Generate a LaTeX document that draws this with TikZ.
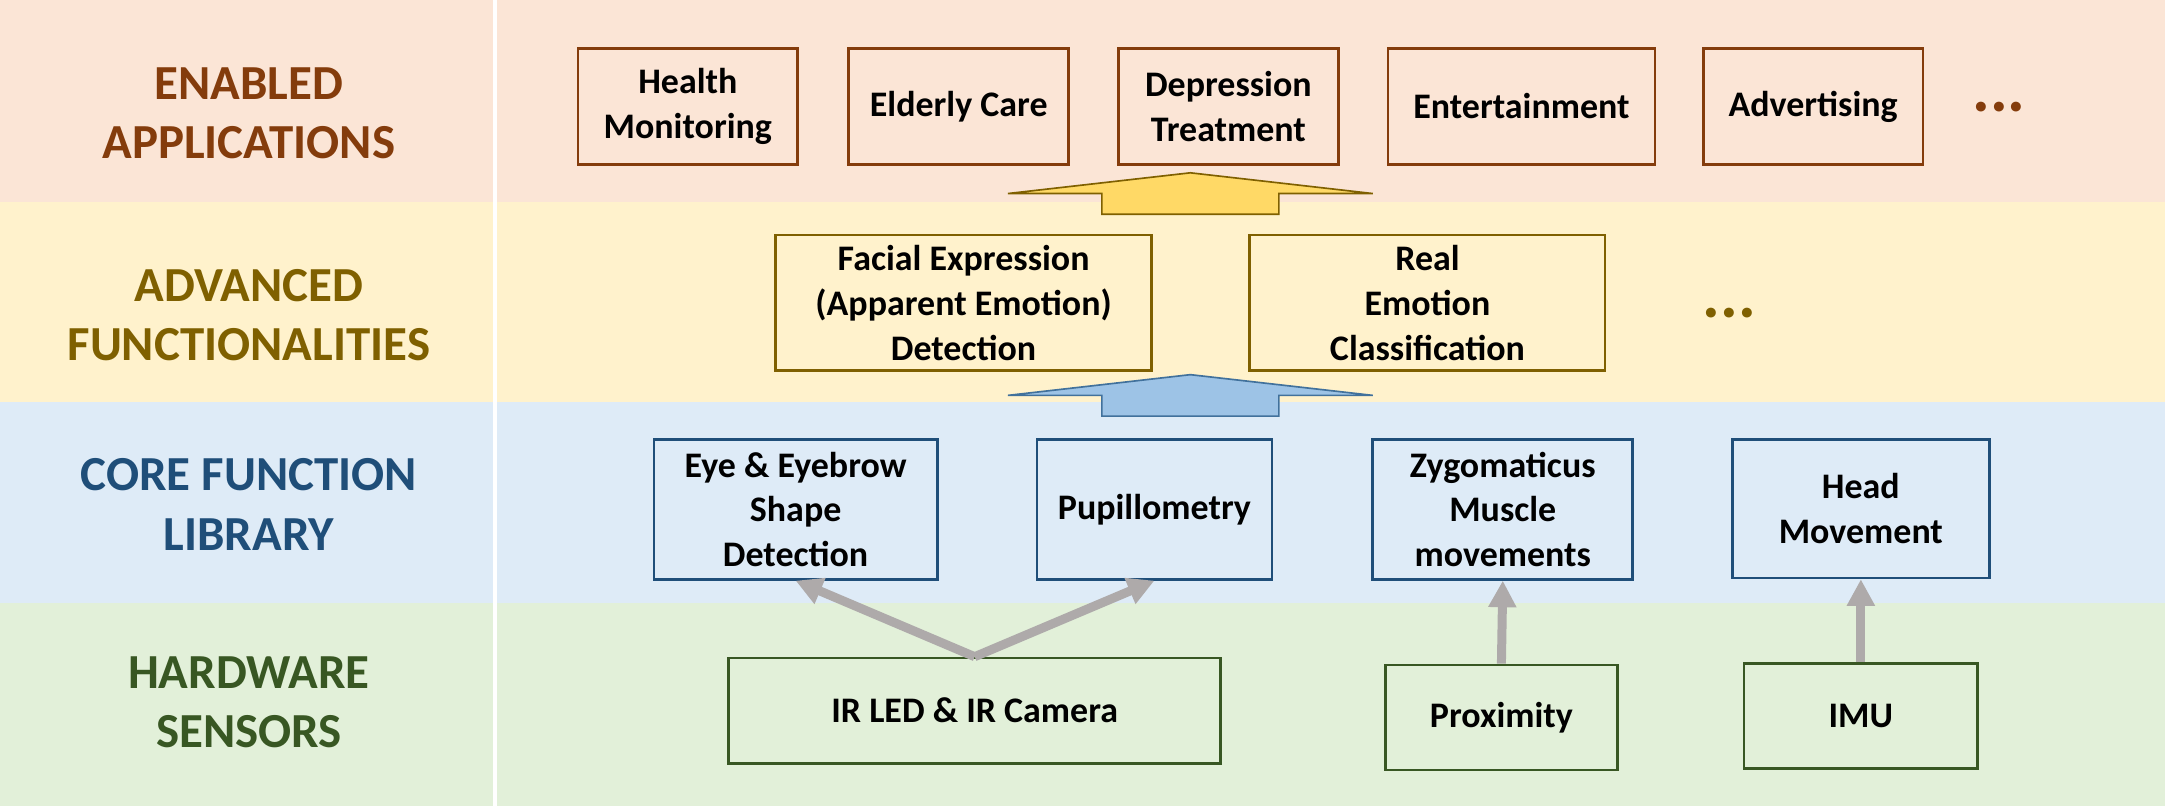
\documentclass[tikz,border=0pt]{standalone}
\usepackage{fontspec}
\setmainfont{Carlito}
\usetikzlibrary{arrows.meta}
\definecolor{bandA}{HTML}{FBE5D6}
\definecolor{bandB}{HTML}{FFF2CC}
\definecolor{bandC}{HTML}{DEEBF7}
\definecolor{bandD}{HTML}{E2F0D9}
\definecolor{darkA}{HTML}{843C0C}
\definecolor{darkB}{HTML}{7F6000}
\definecolor{darkC}{HTML}{1F4E79}
\definecolor{darkD}{HTML}{385723}
\definecolor{arrY}{HTML}{FFD966}
\definecolor{arrB}{HTML}{9DC3E6}
\definecolor{arrBd}{HTML}{41719C}
\definecolor{grayarr}{HTML}{AEAAAA}
\tikzset{
  lab/.style={align=center, inner sep=0pt, font=\fontsize{17.7}{21.6}\selectfont\bfseries},
  box/.style={draw, line width=1pt, align=center, inner sep=0pt, text=black,
              font=\fontsize{13}{16.2}\selectfont\bfseries},
  appbox/.style={box, draw=darkA, fill=bandA},
  advbox/.style={box, draw=darkB, fill=bandB},
  corebox/.style={box, draw=darkC, fill=bandC},
  hwbox/.style={box, draw=darkD, fill=bandD},
  dots/.style={inner sep=0pt, anchor=base, font=\fontsize{24}{24}\selectfont\bfseries},
  grayarrow/.style={draw=grayarr, line width=3.25pt, -{Triangle[length=9.6pt,width=9.6pt]}},
  blockarrow/.style={line width=0.6pt, line join=miter}
}
\begin{document}
\begin{tikzpicture}[x=0.5pt,y=-0.5pt]
\useasboundingbox (0,0) rectangle (1566,583);
% bands
\fill[bandA] (0,0) rectangle (1566,146);
\fill[bandB] (0,146) rectangle (1566,291);
\fill[bandC] (0,291) rectangle (1566,436);
\fill[bandD] (0,436) rectangle (1566,583);
\draw[white, line width=1.5pt] (358,0) -- (358,583);
% row labels
\node[lab, text=darkA] (labA) at (180,82) {ENABLED\\APPLICATIONS};
\node[lab, text=darkB] (labB) at (180,228) {ADVANCED\\FUNCTIONALITIES};
\node[lab, text=darkC] (labC) at (180,365) {CORE FUNCTION\\LIBRARY};
\node[lab, text=darkD] (labD) at (180,508) {HARDWARE\\SENSORS};
% applications
\node[appbox, minimum width=79.5pt, minimum height=42pt] (health) at (497.5,77) {Health\\Monitoring};
\node[appbox, minimum width=79.5pt, minimum height=42pt] (elderly) at (693.5,77) {Elderly Care};
\node[appbox, minimum width=79.5pt, minimum height=42pt] (depr) at (888.5,77) {Depression\\Treatment};
\node[appbox, minimum width=96.5pt, minimum height=42pt] (enter) at (1100.5,77) {Entertainment};
\node[appbox, minimum width=79.5pt, minimum height=42pt] (advert) at (1311.5,77) {Advertising};
\node[dots, text=darkA] (dotsA) at (1446,81) {...};
% yellow block arrow
\draw[blockarrow, fill=arrY, draw=darkB] (797,155) -- (797,140) -- (729,140) -- (861,125) -- (993,140) -- (925,140) -- (925,155) -- cycle;
% advanced functionalities
\node[advbox, minimum width=136pt, minimum height=49pt] (facial) at (697,219) {Facial Expression\\(Apparent Emotion)\\Detection};
\node[advbox, minimum width=128.5pt, minimum height=49pt] (real) at (1032.5,219) {Real\\Emotion\\Classification};
\node[dots, text=darkB] (dotsB) at (1251,230) {...};
% blue block arrow
\draw[blockarrow, fill=arrB, draw=arrBd] (797,301) -- (797,286) -- (729,286) -- (861,271) -- (993,286) -- (925,286) -- (925,301) -- cycle;
% core function library
\node[corebox, minimum width=102.5pt, minimum height=50.5pt] (eye) at (575.5,368.5) {Eye \& Eyebrow\\Shape\\Detection};
\node[corebox, minimum width=85pt, minimum height=50.5pt] (pupil) at (835,368.5) {Pupillometry};
\node[corebox, minimum width=94pt, minimum height=50.5pt] (zygo) at (1087,368.5) {Zygomaticus\\Muscle\\movements};
\node[corebox, minimum width=93pt, minimum height=50pt] (head) at (1346,368) {Head\\Movement};
% hardware sensors
\node[hwbox, minimum width=178pt, minimum height=38pt] (ir) at (705,514) {IR LED \& IR Camera};
\node[hwbox, minimum width=84pt, minimum height=38pt] (prox) at (1086,519) {Proximity};
\node[hwbox, minimum width=84.5pt, minimum height=38pt] (imu) at (1346,518) {IMU};
% connectors
\draw[grayarrow] (ir.north) -- (eye.south);
\draw[grayarrow] (ir.north) -- (pupil.south);
\draw[grayarrow] (prox.north) -- (zygo.south);
\draw[grayarrow] (imu.north) -- (head.south);
\end{tikzpicture}
\end{document}
